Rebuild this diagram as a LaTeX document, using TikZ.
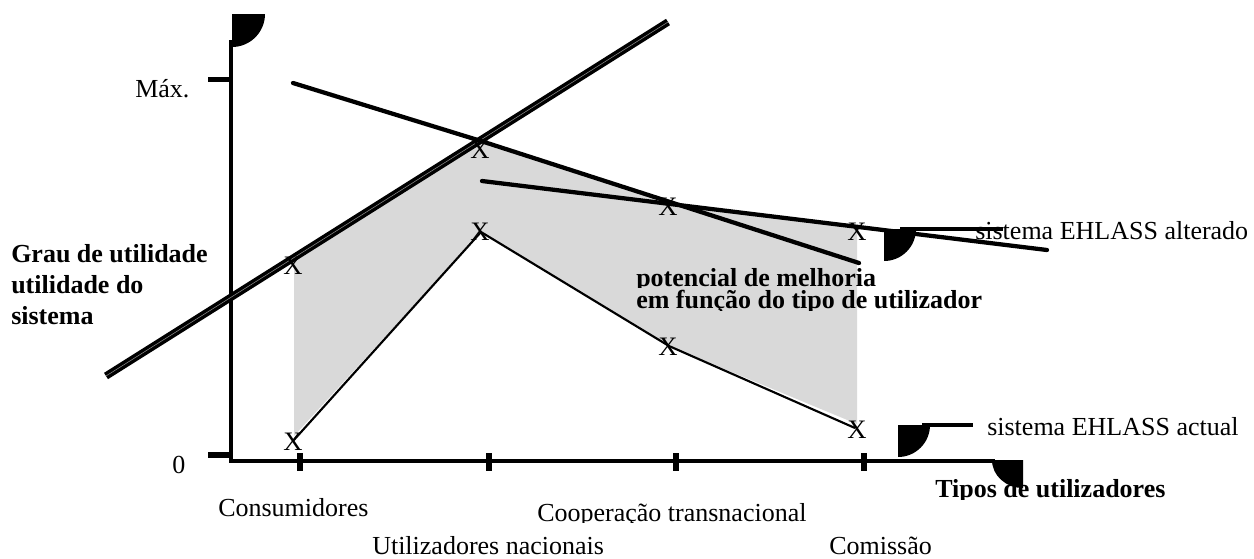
\documentclass[tikz,border=0pt]{standalone}
\usepackage{fontspec}
\setmainfont{Liberation Serif}
\begin{document}
\begin{tikzpicture}[x=0.75pt,y=-0.75pt,
  txt/.style={font=\fontsize{19.5}{23}\selectfont, inner sep=0pt, anchor=base west},
  btxt/.style={font=\fontsize{19.5}{23}\selectfont\bfseries, inner sep=0pt, anchor=base west},
  xmark/.style={font=\fontsize{20}{23}\selectfont, inner sep=0pt},
  axisline/.style={line width=3.5pt},
  tickline/.style={line width=4pt},
  curveline/.style={line width=3.2pt, line cap=round},
  leader/.style={line width=3pt},
  thinline/.style={line width=1.6pt},
  bigline/.style={line width=2.6pt, double=black!45, double distance=0.4pt},
  blob/.style={fill=black},
  area/.style={fill=black!15}]
\useasboundingbox (0,0) rectangle (1254,558);

% data points
\coordinate (d1) at (294,258);
\coordinate (u2) at (481,141);
\coordinate (u3) at (669,203);
\coordinate (u4) at (857,227);
\coordinate (l1) at (294,436);
\coordinate (l2) at (481,232);
\coordinate (l3) at (669,346);
\coordinate (l4) at (857,424);

% shaded area
\fill[area] (d1) -- (u2) -- (u3) -- (u4) -- (l4) -- (l3) -- (l2) -- (l1) -- cycle;

% axes
\coordinate (ytop) at (231,40);
\coordinate (orig) at (231,461);
\coordinate (xend) at (995,461);
\draw[axisline] (ytop) -- (231,463);
\draw[axisline] (229,461) -- (xend);
% y ticks
\coordinate (ym1) at (208,79.5); \coordinate (ym2) at (231,79.5);
\coordinate (y01) at (208,455); \coordinate (y02) at (231,455);
\draw[tickline] (ym1) -- (ym2);
\draw[tickline] (y01) -- (y02);
% x ticks
\foreach \xx/\nm in {300/t1,489/t2,676/t3,864/t4}{
  \coordinate (\nm a) at (\xx,453);
  \coordinate (\nm b) at (\xx,471);
  \draw[tickline] (\nm a) -- (\nm b);
}

% blobs
\fill[blob] (232,14) -- (265,14) .. controls (265,32.2) and (250.2,47) .. (232,47) -- cycle;
\fill[blob] (884,229) -- (916,229) .. controls (916,246.7) and (901.7,261) .. (884,261) -- cycle;
\fill[blob] (898,425) -- (930,425) .. controls (930,442.7) and (915.7,457) .. (898,457) -- cycle;
\fill[blob] (1023,460) -- (992,460) .. controls (992,475.5) and (1005.9,488) .. (1023,488) -- cycle;

% leader lines
\coordinate (la1) at (900,229); \coordinate (la2) at (1003,229);
\coordinate (lb1) at (922,425); \coordinate (lb2) at (973,425);
\draw[leader] (la1) -- (la2);
\draw[leader] (lb1) -- (lb2);

% lines
\coordinate (g1) at (106,376);
\coordinate (g2) at (668,22);
\draw[bigline] (g1) -- (g2);
\coordinate (p1) at (293,83);
\coordinate (p3) at (859,263);
\draw[curveline] (p1) -- (u2) -- (p3);
\coordinate (q1) at (482,181);
\coordinate (q2) at (1047,250);
\draw[curveline] (q1) -- (q2);
\draw[thinline] (293,441) -- (l2) -- (l3) -- (855,428);

% X marks
\node[xmark] (x1) at (293,266) {X};
\node[xmark] (x2) at (480,150) {X};
\node[xmark] (x3) at (480,232) {X};
\node[xmark] (x4) at (668,207) {X};
\node[xmark] (x5) at (668,347) {X};
\node[xmark] (x6) at (857,232) {X};
\node[xmark] (x7) at (293,442) {X};
\node[xmark] (x8) at (857,430) {X};

% labels
\node[txt] (max) at (135,97) {Máx.};
\node[txt] (zero) at (172,473) {0};
\node[btxt] (g1t) at (11,262) {Grau de utilidade};
\node[btxt] (g2t) at (11,293) {utilidade do};
\node[btxt] (g3t) at (11,324) {sistema};
\begin{scope}
\clip (600,262) rectangle (1000,287.5);
\node[btxt, text depth=0pt] (pot1) at (636,286) {potencial de melhoria};
\end{scope}
\begin{scope}
\clip (600,289) rectangle (1000,310);
\node[btxt, text depth=0pt] (pot2) at (636,308.5) {em função do tipo de utilizador};
\end{scope}
\node[txt] (alt) at (975,239) {sistema EHLASS alterado};
\node[txt] (act) at (987,435) {sistema EHLASS actual};
\begin{scope}
\clip (900,470) rectangle (1200,499);
\node[btxt] (tipos) at (935,497) {Tipos de utilizadores};
\end{scope}
\node[txt] (c1) at (218,516) {Consumidores};
\begin{scope}
\clip (500,495) rectangle (900,522);
\node[txt] (c3) at (537,521) {Cooperação transnacional};
\end{scope}
\node[txt] (c2) at (372,554) {Utilizadores nacionais};
\node[txt] (c4) at (829,554) {Comissão};
\end{tikzpicture}
\end{document}
